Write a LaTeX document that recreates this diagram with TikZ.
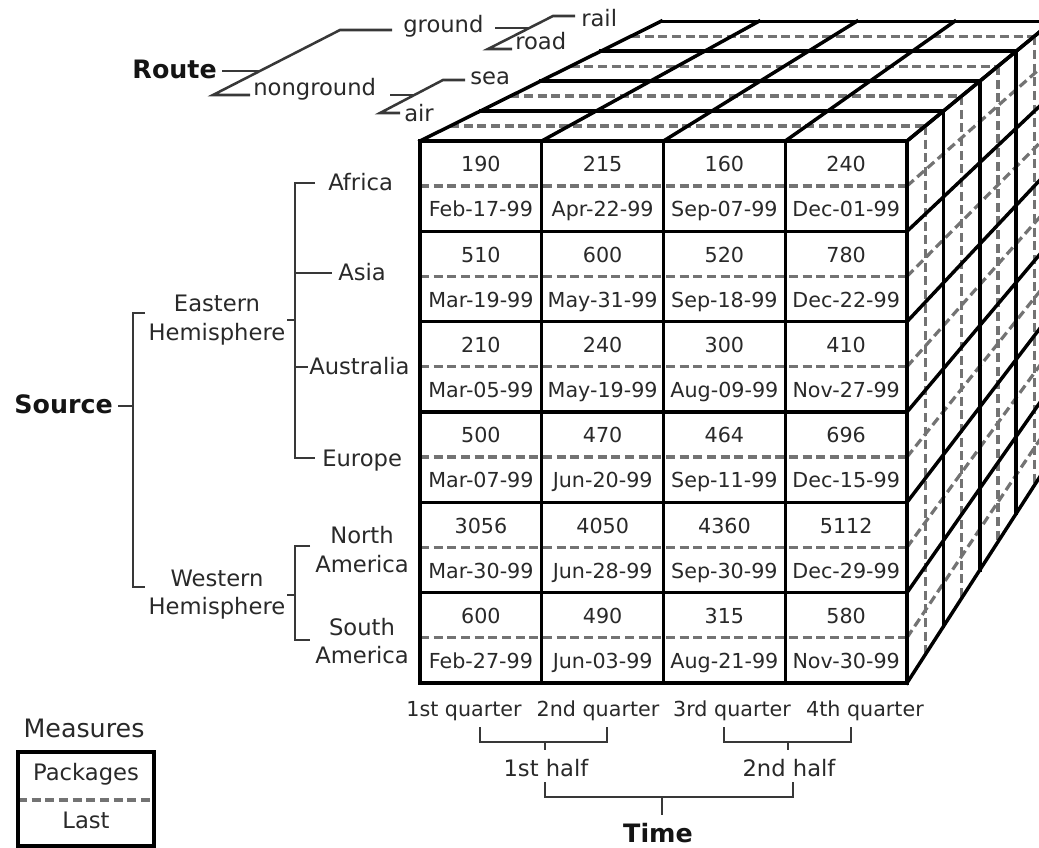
\documentclass[tikz,border=0pt]{standalone}
\usepackage{fontspec}
\setmainfont{DejaVu Sans}
\usetikzlibrary{calc}
\definecolor{txt}{gray}{0.16}
\definecolor{treec}{gray}{0.22}
\definecolor{dashc}{gray}{0.45}
\begin{document}
\begin{tikzpicture}[x=0.75pt,y=-0.75pt,
  cubeline/.style={line width=2.6pt,black,line cap=rect},
  dashline/.style={line width=2.4pt,dashc,dash pattern=on 6.75pt off 3.5pt},
  treeline/.style={line width=1.9pt,treec},
  lbl/.style={inner sep=0pt,text=txt,font=\fontsize{17}{20}\selectfont},
  cell/.style={inner sep=0pt,text=txt,font=\fontsize{15.5}{18}\selectfont,anchor=base},
  title/.style={inner sep=0pt,text=black!92,font=\fontsize{19}{22}\selectfont\bfseries},
]
\useasboundingbox (0,0) rectangle (1039,848);
\clip (0,0) rectangle (1039,848);
\coordinate (V) at (1650,-470);

% ---------- top face ----------
\foreach \d in {0.5,1.5,2.5,3.5}
  \draw[dashline] ($(420,141)!{0.049*\d}!(V)$) -- ($(907,141)!{0.049*\d}!(V)$);
\foreach \d in {1,2,3,4}
  \draw[cubeline] ($(420,141)!{0.049*\d}!(V)$) -- ($(907,141)!{0.049*\d}!(V)$);
\foreach \c in {0,...,4}
  \draw[cubeline] ({420+121.75*\c},141) -- ($({420+121.75*\c},141)!0.196!(V)$);

% ---------- side face ----------
\foreach \d in {0.5,1.5,2.5,3.5}
  \draw[dashline] ($(907,141)!{0.049*\d}!(V)$) -- ($(907,683)!{0.049*\d}!(V)$);
\foreach \r in {0,...,5}
  \draw[dashline] (907,{141+90.33*\r+45}) -- ($(907,{141+90.33*\r+45})!0.196!(V)$);
\foreach \d in {1,2,3,4}
  \draw[cubeline] ($(907,141)!{0.049*\d}!(V)$) -- ($(907,683)!{0.049*\d}!(V)$);
\foreach \r in {0,...,6}
  \draw[cubeline] (907,{141+90.33*\r}) -- ($(907,{141+90.33*\r})!0.196!(V)$);

% ---------- front face ----------
\foreach \r in {0,...,5}
  \draw[dashline] (420,{141+90.33*\r+45}) -- (907,{141+90.33*\r+45});
\foreach \r in {0,...,6}
  \draw[cubeline] (420,{141+90.33*\r}) -- (907,{141+90.33*\r});
\foreach \c in {0,...,4}
  \draw[cubeline] ({420+121.75*\c},141) -- ({420+121.75*\c},683);

\foreach \vals [count=\r from 0] in {{190,215,160,240},{510,600,520,780},{210,240,300,410},{500,470,464,696},{3056,4050,4360,5112},{600,490,315,580}} {
  \foreach \v [count=\c from 0] in \vals
    \node[cell] (p\r\c) at ({420+121.75*\c+60.9},{141+90.33*\r+31}) {\v};
}
\foreach \vals [count=\r from 0] in {{Feb-17-99,Apr-22-99,Sep-07-99,Dec-01-99},{Mar-19-99,May-31-99,Sep-18-99,Dec-22-99},{Mar-05-99,May-19-99,Aug-09-99,Nov-27-99},{Mar-07-99,Jun-20-99,Sep-11-99,Dec-15-99},{Mar-30-99,Jun-28-99,Sep-30-99,Dec-29-99},{Feb-27-99,Jun-03-99,Aug-21-99,Nov-30-99}} {
  \foreach \v [count=\c from 0] in \vals
    \node[cell] (l\r\c) at ({420+121.75*\c+60.9},{141+90.33*\r+76}) {\v};
}

% ---------- Route ----------
\node[title,anchor=base east] (route) at (217,79) {Route};
\node[lbl,anchor=base west] (ground) at (403,33) {ground};
\node[lbl,anchor=base west] (nonground) at (253,96) {nonground};
\node[lbl,anchor=base west] (rail) at (581,27) {rail};
\node[lbl,anchor=base west] (road) at (515,50) {road};
\node[lbl,anchor=base west] (sea) at (470,85) {sea};
\node[lbl,anchor=base west] (air) at (404,122) {air};
\draw[treeline] (222,71) -- (260,71);
\draw[treeline] (392,30) -- (340,30) -- (213,95) -- (250,95);
\draw[treeline] (495,28) -- (529,28);
\draw[treeline] (575,16) -- (553,16) -- (488,49) -- (512,49);
\draw[treeline] (390,95) -- (414,95);
\draw[treeline] (465,80) -- (443,80) -- (380,113) -- (400,113);

% ---------- Source ----------
\node[title,anchor=base east] (source) at (113,414) {Source};
\draw[treeline] (118,406) -- (133,406);
\draw[treeline] (145,313) -- (133,313) -- (133,587) -- (145,587);
\node[lbl,anchor=base] (east1) at (217,312) {Eastern};
\node[lbl,anchor=base] (east2) at (217,341) {Hemisphere};
\node[lbl,anchor=base] (west1) at (217,586) {Western};
\node[lbl,anchor=base] (west2) at (217,614) {Hemisphere};
\draw[treeline] (287,320) -- (295,320);
\draw[treeline] (315,183) -- (295,183) -- (295,458) -- (315,458);
\draw[treeline] (295,273) -- (332,273);
\draw[treeline] (295,367) -- (308,367);
\node[lbl,anchor=base west] (africa) at (328,191) {Africa};
\node[lbl,anchor=base west] (asia) at (338,281) {Asia};
\node[lbl,anchor=base west] (australia) at (309,375) {Australia};
\node[lbl,anchor=base west] (europe) at (322,466) {Europe};
\draw[treeline] (287,595) -- (295,595);
\draw[treeline] (310,546) -- (295,546) -- (295,640) -- (310,640);
\node[lbl,anchor=base] (na1) at (362,543) {North};
\node[lbl,anchor=base] (na2) at (362,572) {America};
\node[lbl,anchor=base] (sa1) at (362,635) {South};
\node[lbl,anchor=base] (sa2) at (362,663) {America};

% ---------- Time ----------
\node[cell] (q1) at (464,716) {1st quarter};
\node[cell] (q2) at (598,716) {2nd quarter};
\node[cell] (q3) at (732,716) {3rd quarter};
\node[cell] (q4) at (865,716) {4th quarter};
\draw[treeline] (480,727) -- (480,742) -- (607,742) -- (607,727);
\draw[treeline] (545,742) -- (545,750);
\draw[treeline] (724,727) -- (724,742) -- (851,742) -- (851,727);
\draw[treeline] (788,742) -- (788,750);
\node[lbl,anchor=base] (h1) at (546,776) {1st half};
\node[lbl,anchor=base] (h2) at (789,776) {2nd half};
\draw[treeline] (545,782) -- (545,797) -- (793,797) -- (793,782);
\draw[treeline] (662,797) -- (662,815);
\node[title,anchor=base] (time) at (658,842) {Time};

% ---------- Measures ----------
\node[lbl,anchor=base,font=\fontsize{19}{22}\selectfont] (measures) at (84,737) {Measures};
\draw[dashline] (18,800) -- (154,800);
\draw[cubeline] (18,752) rectangle (154,846);
\node[lbl,anchor=base] (pk) at (86,780) {Packages};
\node[lbl,anchor=base] (last) at (86,828) {Last};
\end{tikzpicture}
\end{document}
